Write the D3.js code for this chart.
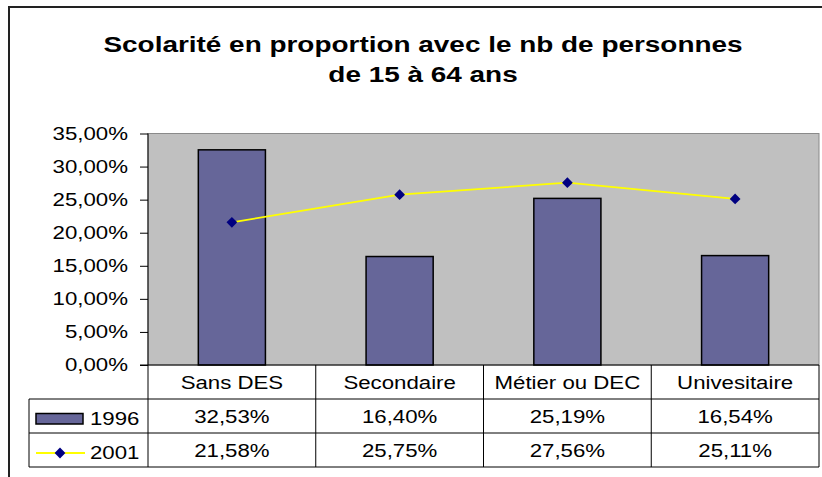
<!DOCTYPE html>
<html>
<head>
<meta charset="utf-8">
<script src="https://cdn.jsdelivr.net/npm/d3@7"></script>
<style>
  html, body { margin: 0; padding: 0; background: #fff; }
  svg { display: block; font-family: "Liberation Sans", Arial, sans-serif; }
</style>
</head>
<body>
<div id="chart"></div>
<script>
// data
const categories = ["Sans DES", "Secondaire", "Métier ou DEC", "Univesitaire"];
const values1996 = [32.53, 16.40, 25.19, 16.54];
const values2001 = [21.58, 25.75, 27.56, 25.11];
const seriesNames = ["1996", "2001"];
const yTicks = [0, 5, 10, 15, 20, 25, 30, 35];
const titleLines = ["Scolarité en proportion avec le nb de personnes", "de 15 à 64 ans"];

const W = 822, H = 477;
const SX = 1.27; // the original text is stretched sideways
const plot = { left: 148, right: 819, top: 133.5, bottom: 365 };
const rowH = 34;

const fr = d3.formatLocale({ decimal: ",", thousands: " ", grouping: [3], currency: ["", " €"] });
const pct = v => fr.format(".2f")(v) + "%";

const svg = d3.select("#chart").append("svg")
    .attr("width", W)
    .attr("height", H);

// outer chart border (runs off the right / bottom edge)
svg.append("rect")
    .attr("x", 9).attr("y", 7)
    .attr("width", 840).attr("height", 490)
    .attr("fill", "#fff")
    .attr("stroke", "#222")
    .attr("stroke-width", 2);

// small helper so every label gets the same horizontal stretch
function label(g, x, y, txt, size, anchor, weight) {
    return g.append("text")
        .attr("transform", `translate(${x},${y}) scale(${SX},1)`)
        .attr("text-anchor", anchor || "middle")
        .style("font-size", size + "px")
        .style("font-weight", weight || "normal")
        .attr("fill", "#000")
        .text(txt);
}

titleLines.forEach((t, i) => label(svg, 423, 52 + i * 30, t, 22, "middle", "bold"));

const x = d3.scaleBand()
    .domain(categories)
    .range([plot.left, plot.right])
    .paddingInner(0.6)
    .paddingOuter(0.3);
const step = (plot.right - plot.left) / categories.length;
const xc = c => x(c) + x.bandwidth() / 2;

const y = d3.scaleLinear()
    .domain([0, 35])
    .range([plot.bottom, plot.top]);

// plot background
svg.append("rect")
    .attr("x", plot.left).attr("y", plot.top)
    .attr("width", plot.right - plot.left)
    .attr("height", plot.bottom - plot.top)
    .attr("fill", "#C0C0C0")
    .attr("stroke", "#8a8a8a")
    .attr("stroke-width", 1);

// y axis with tick marks to the left, labels drawn separately for the stretch
const yAxis = d3.axisLeft(y).tickValues(yTicks).tickSize(8).tickFormat("");
const yg = svg.append("g")
    .attr("transform", `translate(${plot.left},0)`)
    .call(yAxis);
yg.select(".domain").remove();
yg.selectAll(".tick line").attr("stroke", "#000");
yTicks.forEach(v => label(svg, 128, y(v) + 6, pct(v), 17.5, "end"));

// bars 1996
svg.selectAll(".bar")
    .data(categories)
    .enter().append("rect")
    .attr("class", "bar")
    .attr("x", d => x(d))
    .attr("y", (d, i) => y(values1996[i]))
    .attr("width", x.bandwidth())
    .attr("height", (d, i) => plot.bottom - y(values1996[i]))
    .attr("fill", "#666699")
    .attr("stroke", "#000")
    .attr("stroke-width", 1.5);

// line 2001
const line = d3.line().x((d, i) => xc(categories[i])).y(d => y(d));
svg.append("path")
    .datum(values2001)
    .attr("d", line)
    .attr("fill", "none")
    .attr("stroke", "#FFFF00")
    .attr("stroke-width", 1.8);

const diamond = d3.symbol().type(d3.symbolSquare).size(58);
svg.selectAll(".pt")
    .data(values2001)
    .enter().append("path")
    .attr("class", "pt")
    .attr("d", diamond)
    .attr("transform", (d, i) => `translate(${xc(categories[i])},${y(d)}) rotate(45)`)
    .attr("fill", "#000080");

// data table
const tTop = plot.bottom, tBot = plot.bottom + rowH * 3;
const legendLeft = 29;
const tg = svg.append("g").attr("stroke", "#000").attr("stroke-width", 1);
// horizontal rules
tg.append("line").attr("x1", 140).attr("x2", plot.right).attr("y1", tTop).attr("y2", tTop);
[1, 2, 3].forEach(r => {
    tg.append("line")
        .attr("x1", legendLeft).attr("x2", plot.right)
        .attr("y1", tTop + r * rowH).attr("y2", tTop + r * rowH);
});
// vertical rules
tg.append("line").attr("x1", plot.left).attr("x2", plot.left).attr("y1", plot.top).attr("y2", tBot);
tg.append("line").attr("x1", legendLeft).attr("x2", legendLeft).attr("y1", tTop + rowH).attr("y2", tBot);
categories.forEach((c, i) => {
    const xv = plot.left + (i + 1) * step;
    tg.append("line").attr("x1", xv).attr("x2", xv).attr("y1", tTop).attr("y2", tBot);
});

categories.forEach((c, i) => {
    const cx = plot.left + (i + 0.5) * step;
    label(svg, cx, tTop + rowH * 0.5 + 6.5, c, 17.5);
    label(svg, cx, tTop + rowH * 1.5 + 6.5, pct(values1996[i]), 17.5);
    label(svg, cx, tTop + rowH * 2.5 + 6.5, pct(values2001[i]), 17.5);
});

// legend keys inside the table
const r1 = tTop + rowH * 1.5, r2 = tTop + rowH * 2.5;
svg.append("rect")
    .attr("x", 36).attr("y", r1 - 2.5)
    .attr("width", 47).attr("height", 10.5)
    .attr("fill", "#666699")
    .attr("stroke", "#000")
    .attr("stroke-width", 1.5);
svg.append("line")
    .attr("x1", 36).attr("x2", 85)
    .attr("y1", r2 + 3).attr("y2", r2 + 3)
    .attr("stroke", "#FFFF00")
    .attr("stroke-width", 1.8);
svg.append("path")
    .attr("d", diamond)
    .attr("transform", `translate(60,${r2 + 3}) rotate(45)`)
    .attr("fill", "#000080");
label(svg, 90, r1 + 8.5, seriesNames[0], 17.5, "start");
label(svg, 90, r2 + 8.5, seriesNames[1], 17.5, "start");
</script>
</body>
</html>
